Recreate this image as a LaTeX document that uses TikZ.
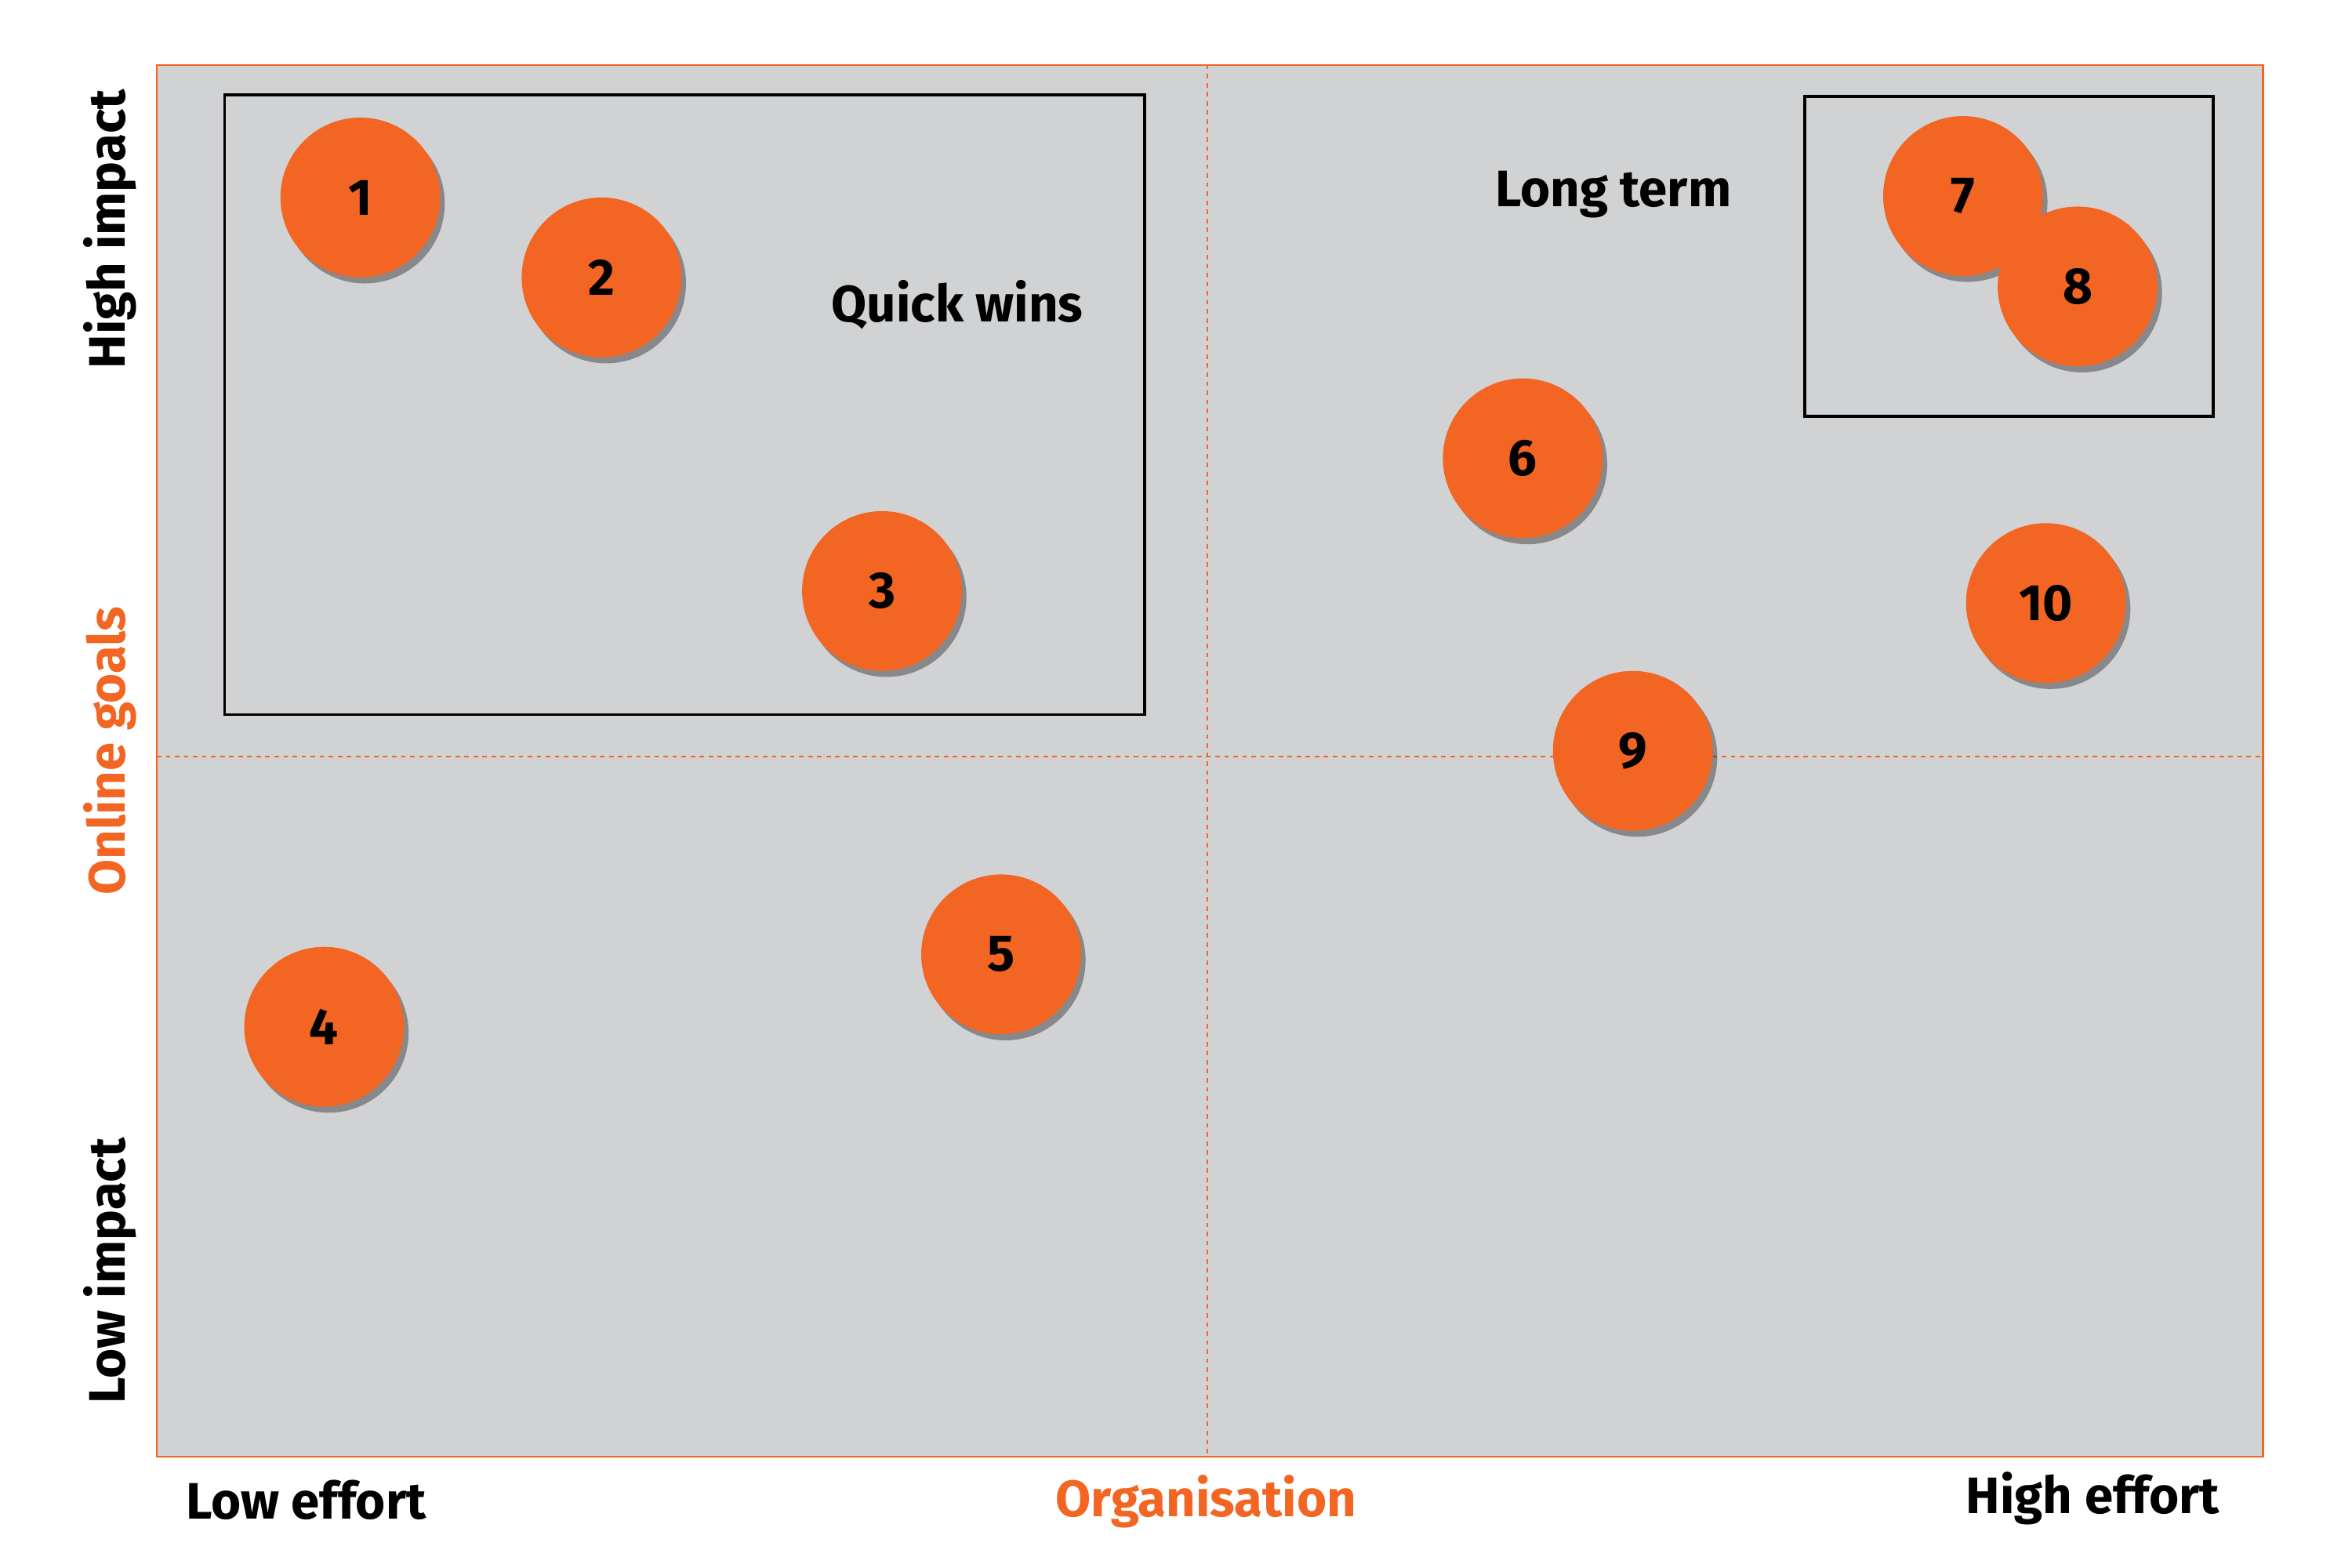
\documentclass[tikz,border=0pt]{standalone}
\usepackage{fontspec}
\setmainfont{Fira Sans}
\usetikzlibrary{shadows}
\definecolor{org}{HTML}{F26522}
\definecolor{bg}{HTML}{D1D2D4}
\begin{document}
\begin{tikzpicture}[x=1pt,y=-1pt,
  dot/.style={circle,fill=org,minimum size=106pt,inner sep=0pt,font=\fontsize{34}{36}\selectfont\bfseries,
    drop shadow={shadow xshift=3pt,shadow yshift=-4pt,fill=black,opacity=0.35}},
  lbl/.style={font=\fontsize{34}{36}\selectfont\bfseries},
  ax/.style={font=\fontsize{34}{36}\selectfont\bfseries}]
\useasboundingbox (0,0) rectangle (1560,1040);
\fill[bg] (104,43) rectangle (1501,966);
\draw[org,line width=1.2pt] (104,43) rectangle (1501,966);
\draw[org,dashed,line width=1pt] (801,43) -- (801,966);
\draw[org,dashed,line width=1pt] (104,502) -- (1501,502);
\draw[line width=2pt] (149,63) rectangle (759,474);
\draw[line width=2pt] (1197,64) rectangle (1468,276);
\node[lbl] (qw) at (635,202) {Quick wins};
\node[lbl] (lt) at (1070,129) {Long term};
\node[dot] (n1) at (239,131) {1};
\node[dot] (n2) at (399,184) {2};
\node[dot] (n3) at (585,392) {3};
\node[dot] (n4) at (215,681) {4};
\node[dot] (n5) at (664,633) {5};
\node[dot] (n6) at (1010,304) {6};
\node[dot] (n7) at (1302,130) {7};
\node[dot] (n8) at (1378,190) {8};
\node[dot] (n9) at (1083,498) {9};
\node[dot] (n10) at (1357,400) {10};
\node[ax,rotate=90] (hi) at (73,152) {High impact};
\node[ax,rotate=90,text=org] (og) at (73,498) {Online goals};
\node[ax,rotate=90] (li) at (73,843) {Low impact};
\node[ax] (le) at (203,995) {Low effort};
\node[ax,text=org] (orgn) at (800,996) {Organisation};
\node[ax] (he) at (1388,994) {High effort};
\end{tikzpicture}
\end{document}
